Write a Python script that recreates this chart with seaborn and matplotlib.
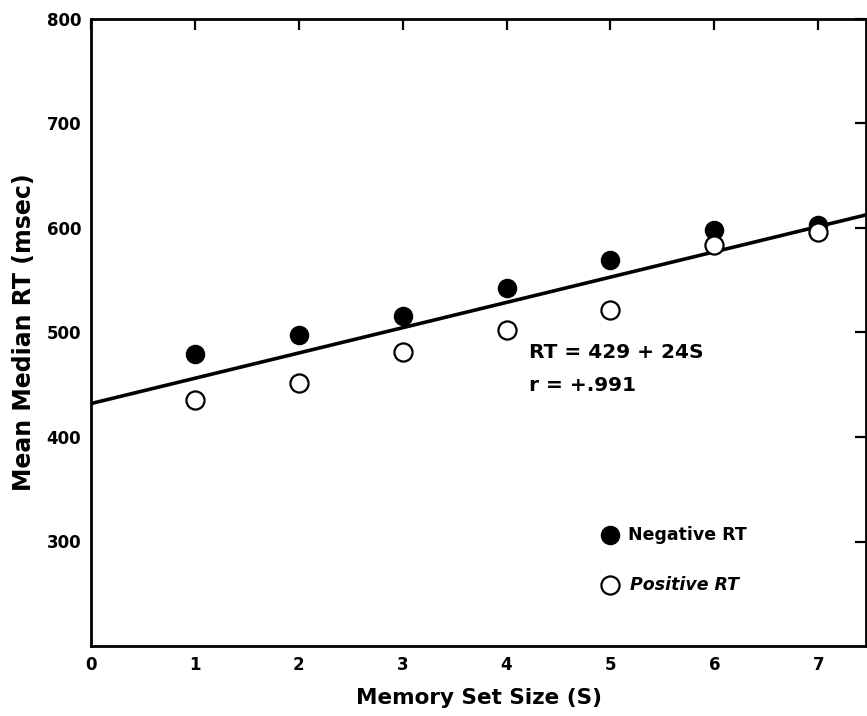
import matplotlib
matplotlib.use("Agg")
import matplotlib.pyplot as plt
import seaborn as sns
import pandas as pd
import numpy as np

set_size = [1, 2, 3, 4, 5, 6, 7]
negative_rt = [479, 498, 516, 543, 569, 598, 603]
positive_rt = [435, 452, 481, 502, 522, 584, 596]
line_x = [0, 7.5]
line_intercept = 432
line_slope = 24.2
x_ticks = [0, 1, 2, 3, 4, 5, 6, 7]
y_ticks = [300, 400, 500, 600, 700, 800]

sns.set_theme(style="white")
plt.rcParams['font.family'] = ['DejaVu Sans']
plt.rcParams['text.color'] = 'black'
plt.rcParams['axes.labelcolor'] = 'black'
plt.rcParams['xtick.color'] = 'black'
plt.rcParams['ytick.color'] = 'black'

fig = plt.figure(figsize=(8.67, 7.16), dpi=100)
ax = fig.add_axes([91/867, 1-646/716, (866-91)/867, (646-19)/716])

df_neg = pd.DataFrame({"S": set_size, "RT": negative_rt})
df_pos = pd.DataFrame({"S": set_size, "RT": positive_rt})
df_line = pd.DataFrame({"S": line_x, "RT": [line_intercept + line_slope*v for v in line_x]})

sns.lineplot(data=df_line, x="S", y="RT", ax=ax, color="black", linewidth=2.6, zorder=2)
sns.scatterplot(data=df_neg, x="S", y="RT", ax=ax, s=170, color="black",
                edgecolor="black", linewidth=1.0, zorder=3)
sns.scatterplot(data=df_pos, x="S", y="RT", ax=ax, s=170, facecolor="white",
                edgecolor="black", linewidth=1.6, zorder=3)

ax.set_xlim(0, 7.46)
ax.set_ylim(200, 800)
ax.set_xticks(x_ticks)
ax.set_yticks(y_ticks)
ax.set_xticklabels([str(v) for v in x_ticks], fontweight="bold", fontsize=12)
ax.set_yticklabels([str(v) for v in y_ticks], fontweight="bold", fontsize=12)
ax.tick_params(axis="both", direction="in", length=8, width=1.6, top=True, right=True,
               pad=7, colors="black")
for sp in ax.spines.values():
    sp.set_linewidth(2.0)
    sp.set_color("black")

ax.set_xlabel("Memory Set Size (S)", fontweight="bold", fontsize=15.5, labelpad=10)
ax.set_ylabel("Mean Median RT (msec)", fontweight="bold", fontsize=17, labelpad=8)

ax.text(4.22, 481, "RT = 429 + 24S", fontweight="bold", fontsize=14.5, va="center", ha="left")
ax.text(4.22, 449.5, "r = +.991", fontweight="bold", fontsize=14.5, va="center", ha="left")

# legend
ax.scatter([5.0], [306], s=170, color="black", zorder=3)
ax.text(5.17, 306, "Negative RT", fontweight="bold", fontsize=12.5, va="center", ha="left")
ax.scatter([5.0], [258], s=170, facecolor="white", edgecolor="black", linewidth=1.6, zorder=3)
ax.text(5.19, 258, "Positive RT", fontweight="bold", fontstyle="italic", fontsize=12.5,
        va="center", ha="left")

fig.savefig("out.png", dpi=100)
